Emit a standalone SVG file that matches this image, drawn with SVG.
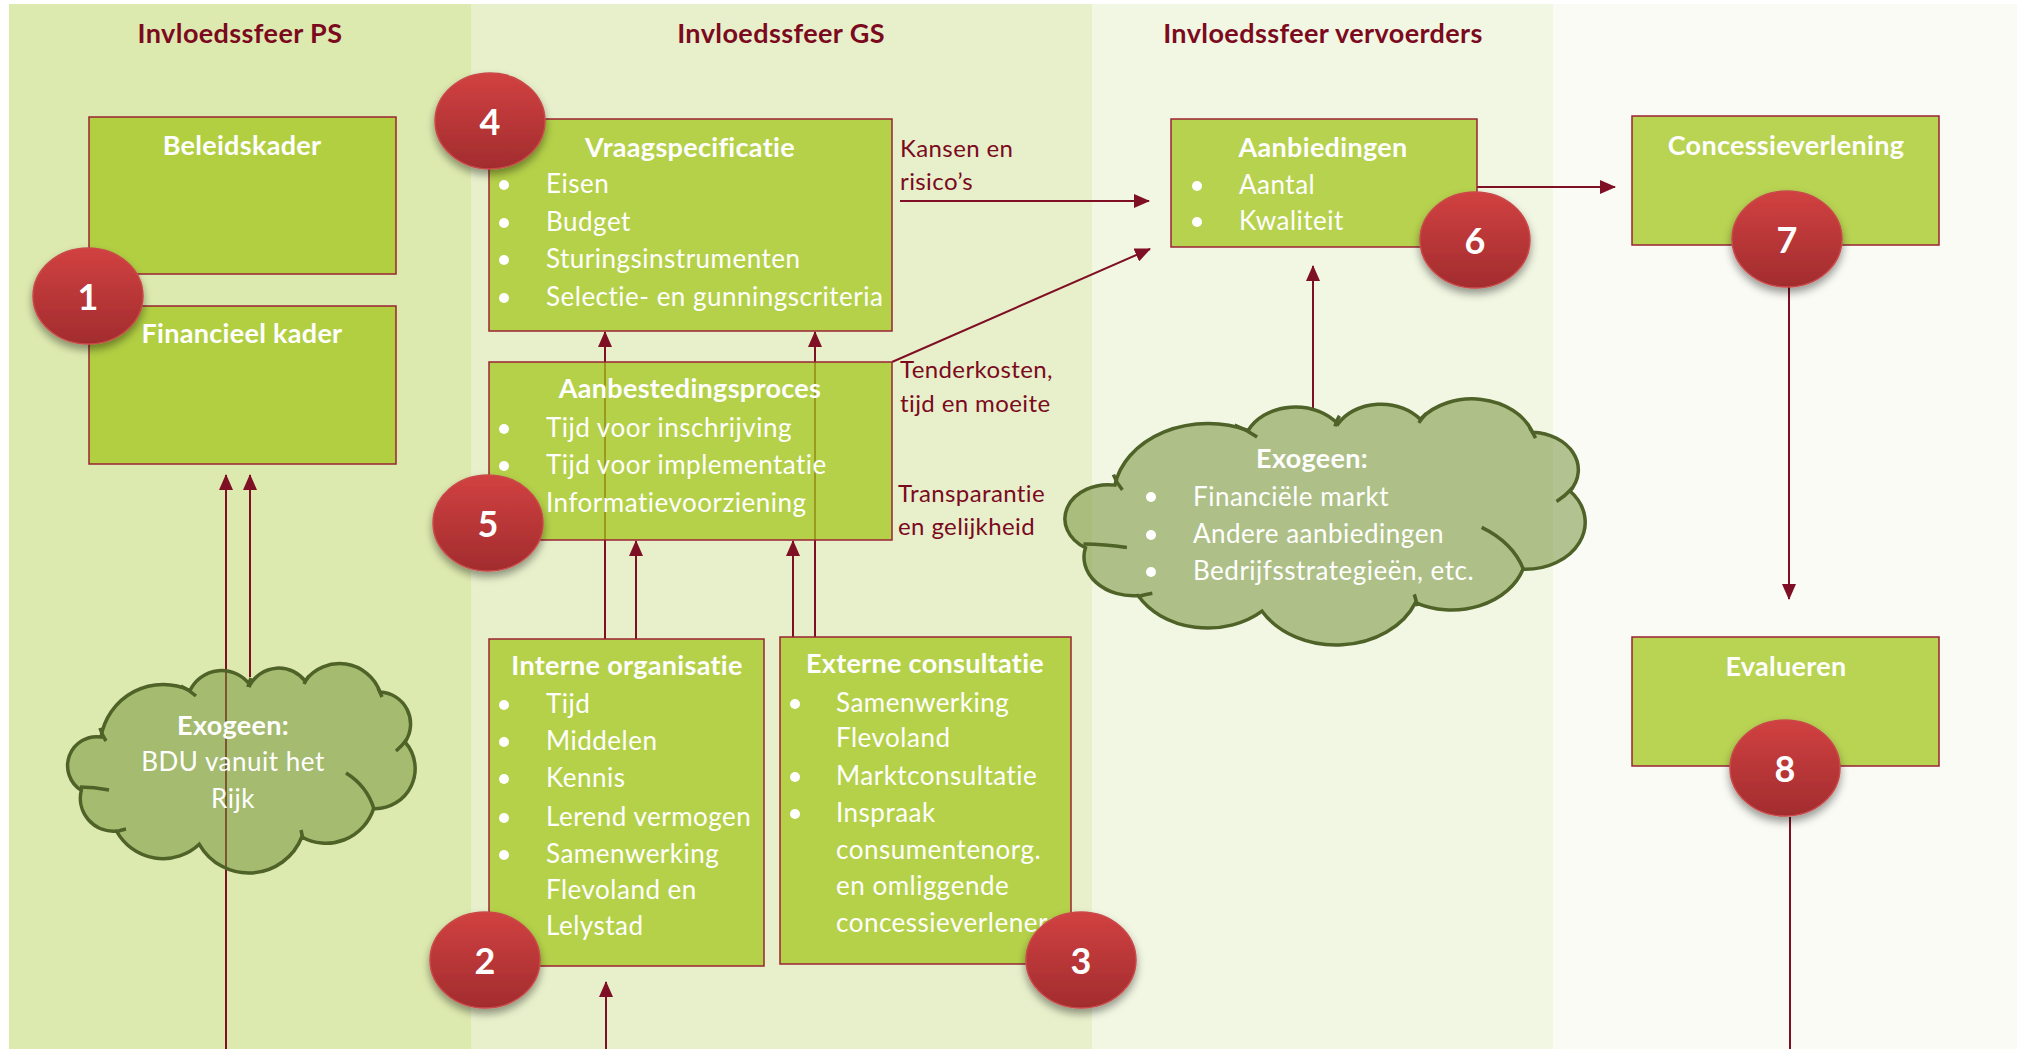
<svg xmlns="http://www.w3.org/2000/svg" width="2022" height="1049" viewBox="0 0 2022 1049">
<style>
text{font-family:Lato,"Open Sans","Liberation Sans",sans-serif}
.col{font-size:27px;font-weight:bold;fill:#7B0A1E;text-anchor:middle;letter-spacing:0.4px}
.box{fill:#A4C620;fill-opacity:0.76;stroke:#9B2335;stroke-width:1.5}
.bt{font-size:27px;font-weight:bold;fill:#fff;text-anchor:middle;letter-spacing:0.3px}
.li{font-size:26px;fill:#fff;letter-spacing:0.5px}
.ct{font-size:26px;fill:#fff;text-anchor:middle;letter-spacing:0.5px}
.bul{fill:#fff}
.lab{font-size:24px;fill:#7B0A1E;letter-spacing:0.4px}
.con{stroke:#7F0F24;stroke-width:2;fill:none}
.arr{marker-end:url(#ah)}
.cloud{fill:#76933C;fill-opacity:0.55;stroke:#4F6228;stroke-width:3.5;vector-effect:non-scaling-stroke}
.tick{fill:none;stroke:#4F6228;stroke-width:3.5;vector-effect:non-scaling-stroke}
.badge{fill:url(#rg);stroke:#C94A4A;stroke-width:1.5;filter:url(#sh)}
.num{font-size:36px;font-weight:bold;fill:#fff;text-anchor:middle}
</style>
<defs>
<marker id="ah" markerUnits="userSpaceOnUse" markerWidth="16" markerHeight="14" refX="15" refY="7" orient="auto"><path d="M0,0 L16,7 L0,14 z" fill="#7F0F24"/></marker>
<linearGradient id="rg" x1="0" y1="0" x2="0" y2="1"><stop offset="0" stop-color="#D14141"/><stop offset="1" stop-color="#A22C2E"/></linearGradient>
<filter id="sh" x="-30%" y="-30%" width="160%" height="170%"><feDropShadow dx="0" dy="5" stdDeviation="4" flood-color="#000" flood-opacity="0.4"/></filter>
<g id="cloudshape">
<path class="cloud" d="M32 75 A63 63 0 0 1 121 28.5 A35 35 0 0 1 181 23 A33 33 0 0 1 236 19 A43 43 0 0 1 311 30 A32 32 0 0 1 336 80 A40 40 0 0 1 304.6 146.6 A50 50 0 0 1 232.8 175 A57 57 0 0 1 130.3 182.3 A53 53 0 0 1 47.5 169 A33 33 0 0 1 12.3 128.3 A29 29 0 0 1 32 75 Z"/>
<path class="tick" d="M31 66 Q33 73 37 79 M112 24 Q120 28 127 34 M182 16 Q180 20 179 25 M240 14 Q237 18 235 22 M309 26 Q311 30 313 35 M338 77 Q333 84 327 89 M277 111 Q298 124 305 147 M232 168 Q233 172 234 178 M47 170 Q52 168 57 167 M11 125 Q25 125 40 128"/>
</g>
</defs>
<rect x="0" y="0" width="2022" height="1049" fill="#ffffff"/>
<g id="columns">
<rect x="9" y="4" width="462" height="1045" fill="#DDEAAF"/>
<rect x="471" y="4" width="621" height="1045" fill="#E8F0CB"/>
<rect x="1092" y="4" width="461" height="1045" fill="#F2F7E3"/>
<rect x="1553" y="4" width="464" height="1045" fill="#FAFBF5"/>
<text class="col" x="240" y="43">Invloedssfeer PS</text>
<text class="col" x="781" y="43">Invloedssfeer GS</text>
<text class="col" x="1323" y="43">Invloedssfeer vervoerders</text>
</g>
<g id="connectors">
<path class="con arr" d="M226 1049 V475"/>
<path class="con arr" d="M250 677 V475"/>
<path class="con arr" d="M605 639 V332"/>
<path class="con arr" d="M815 637 V332"/>
<path class="con arr" d="M636 639 V541"/>
<path class="con arr" d="M793 637 V541"/>
<path class="con arr" d="M606 1049 V982"/>
<path class="con arr" d="M900 201 H1149"/>
<path class="con arr" d="M892 362 L1150 249"/>
<path class="con arr" d="M1477 187 H1615"/>
<path class="con arr" d="M1313 409 V266"/>
<path class="con arr" d="M1789 273 V599"/>
<path class="con" d="M1790 817 V1049"/>
</g>
<g id="edge-labels">
<text class="lab" x="900" y="157">Kansen en</text>
<text class="lab" x="900" y="190">risico’s</text>
<text class="lab" x="900" y="378">Tenderkosten,</text>
<text class="lab" x="900" y="412">tijd en moeite</text>
<text class="lab" x="898" y="502">Transparantie</text>
<text class="lab" x="898" y="535">en gelijkheid</text>
</g>
<g id="beleidskader">
<rect class="box" x="89" y="117" width="307" height="157"/>
<text class="bt" x="242" y="155">Beleidskader</text>
</g>
<g id="financieel-kader">
<rect class="box" x="89" y="306" width="307" height="158"/>
<text class="bt" x="242" y="343">Financieel kader</text>
</g>
<g id="vraagspecificatie">
<rect class="box" x="489" y="119" width="403" height="212"/>
<text class="bt" x="690" y="157">Vraagspecificatie</text>
<circle class="bul" cx="504" cy="185" r="5"/><text class="li" x="546" y="193">Eisen</text>
<circle class="bul" cx="504" cy="223" r="5"/><text class="li" x="546" y="231">Budget</text>
<circle class="bul" cx="504" cy="260" r="5"/><text class="li" x="546" y="268">Sturingsinstrumenten</text>
<circle class="bul" cx="504" cy="298" r="5"/><text class="li" x="546" y="306">Selectie- en gunningscriteria</text>
</g>
<g id="aanbestedingsproces">
<rect class="box" x="489" y="362" width="403" height="178"/>
<text class="bt" x="690" y="398">Aanbestedingsproces</text>
<circle class="bul" cx="504" cy="429" r="5"/><text class="li" x="546" y="437">Tijd voor inschrijving</text>
<circle class="bul" cx="504" cy="466" r="5"/><text class="li" x="546" y="474">Tijd voor implementatie</text>
<circle class="bul" cx="504" cy="504" r="5"/><text class="li" x="546" y="512">Informatievoorziening</text>
</g>
<g id="interne-organisatie">
<rect class="box" x="489" y="639" width="275" height="327"/>
<text class="bt" x="627" y="675">Interne organisatie</text>
<circle class="bul" cx="504" cy="705" r="5"/><text class="li" x="546" y="713">Tijd</text>
<circle class="bul" cx="504" cy="742" r="5"/><text class="li" x="546" y="750">Middelen</text>
<circle class="bul" cx="504" cy="779" r="5"/><text class="li" x="546" y="787">Kennis</text>
<circle class="bul" cx="504" cy="818" r="5"/><text class="li" x="546" y="826">Lerend vermogen</text>
<circle class="bul" cx="504" cy="855" r="5"/><text class="li" x="546" y="863">Samenwerking</text>
<text class="li" x="546" y="899">Flevoland en</text>
<text class="li" x="546" y="935">Lelystad</text>
</g>
<g id="externe-consultatie">
<rect class="box" x="780" y="637" width="291" height="327"/>
<text class="bt" x="925" y="673">Externe consultatie</text>
<circle class="bul" cx="795" cy="704" r="5"/><text class="li" x="836" y="712">Samenwerking</text>
<text class="li" x="836" y="747">Flevoland</text>
<circle class="bul" cx="795" cy="777" r="5"/><text class="li" x="836" y="785">Marktconsultatie</text>
<circle class="bul" cx="795" cy="814" r="5"/><text class="li" x="836" y="822">Inspraak</text>
<text class="li" x="836" y="859">consumentenorg.</text>
<text class="li" x="836" y="895">en omliggende</text>
<text class="li" x="836" y="932">concessieverleners</text>
</g>
<g id="aanbiedingen">
<rect class="box" x="1171" y="119" width="306" height="128"/>
<text class="bt" x="1323" y="157">Aanbiedingen</text>
<circle class="bul" cx="1197" cy="186" r="5"/><text class="li" x="1239" y="194">Aantal</text>
<circle class="bul" cx="1197" cy="222" r="5"/><text class="li" x="1239" y="230">Kwaliteit</text>
</g>
<g id="concessieverlening">
<rect class="box" x="1632" y="116" width="307" height="129"/>
<text class="bt" x="1786" y="155">Concessieverlening</text>
</g>
<g id="evalueren">
<rect class="box" x="1632" y="637" width="307" height="129"/>
<text class="bt" x="1786" y="676">Evalueren</text>
</g>
<g id="exogeen-ps">
<use href="#cloudshape" transform="translate(69,662)"/>
<text class="bt" x="233" y="735">Exogeen:</text>
<text class="ct" x="233" y="771">BDU vanuit het</text>
<text class="ct" x="233" y="808">Rijk</text>
</g>
<g id="exogeen-vervoerders">
<use href="#cloudshape" transform="translate(1067,397) scale(1.497,1.175)"/>
<text class="bt" x="1312" y="468">Exogeen:</text>
<circle class="bul" cx="1151" cy="497" r="5"/><text class="li" x="1193" y="506">Financiële markt</text>
<circle class="bul" cx="1151" cy="535" r="5"/><text class="li" x="1193" y="543">Andere aanbiedingen</text>
<circle class="bul" cx="1151" cy="572" r="5"/><text class="li" x="1193" y="580">Bedrijfsstrategieën, etc.</text>
</g>
<g id="badge1"><ellipse class="badge" cx="88" cy="296" rx="55" ry="48"/><text class="num" x="88" y="310">1</text></g>
<g id="badge2"><ellipse class="badge" cx="485" cy="960" rx="55" ry="48"/><text class="num" x="485" y="974">2</text></g>
<g id="badge3"><ellipse class="badge" cx="1081" cy="960" rx="55" ry="48"/><text class="num" x="1081" y="974">3</text></g>
<g id="badge4"><ellipse class="badge" cx="490" cy="121" rx="55" ry="48"/><text class="num" x="490" y="135">4</text></g>
<g id="badge5"><ellipse class="badge" cx="488" cy="523" rx="55" ry="48"/><text class="num" x="488" y="537">5</text></g>
<g id="badge6"><ellipse class="badge" cx="1475" cy="240" rx="55" ry="48"/><text class="num" x="1475" y="254">6</text></g>
<g id="badge7"><ellipse class="badge" cx="1787" cy="239" rx="55" ry="48"/><text class="num" x="1787" y="253">7</text></g>
<g id="badge8"><ellipse class="badge" cx="1785" cy="768" rx="55" ry="48"/><text class="num" x="1785" y="782">8</text></g>
</svg>
